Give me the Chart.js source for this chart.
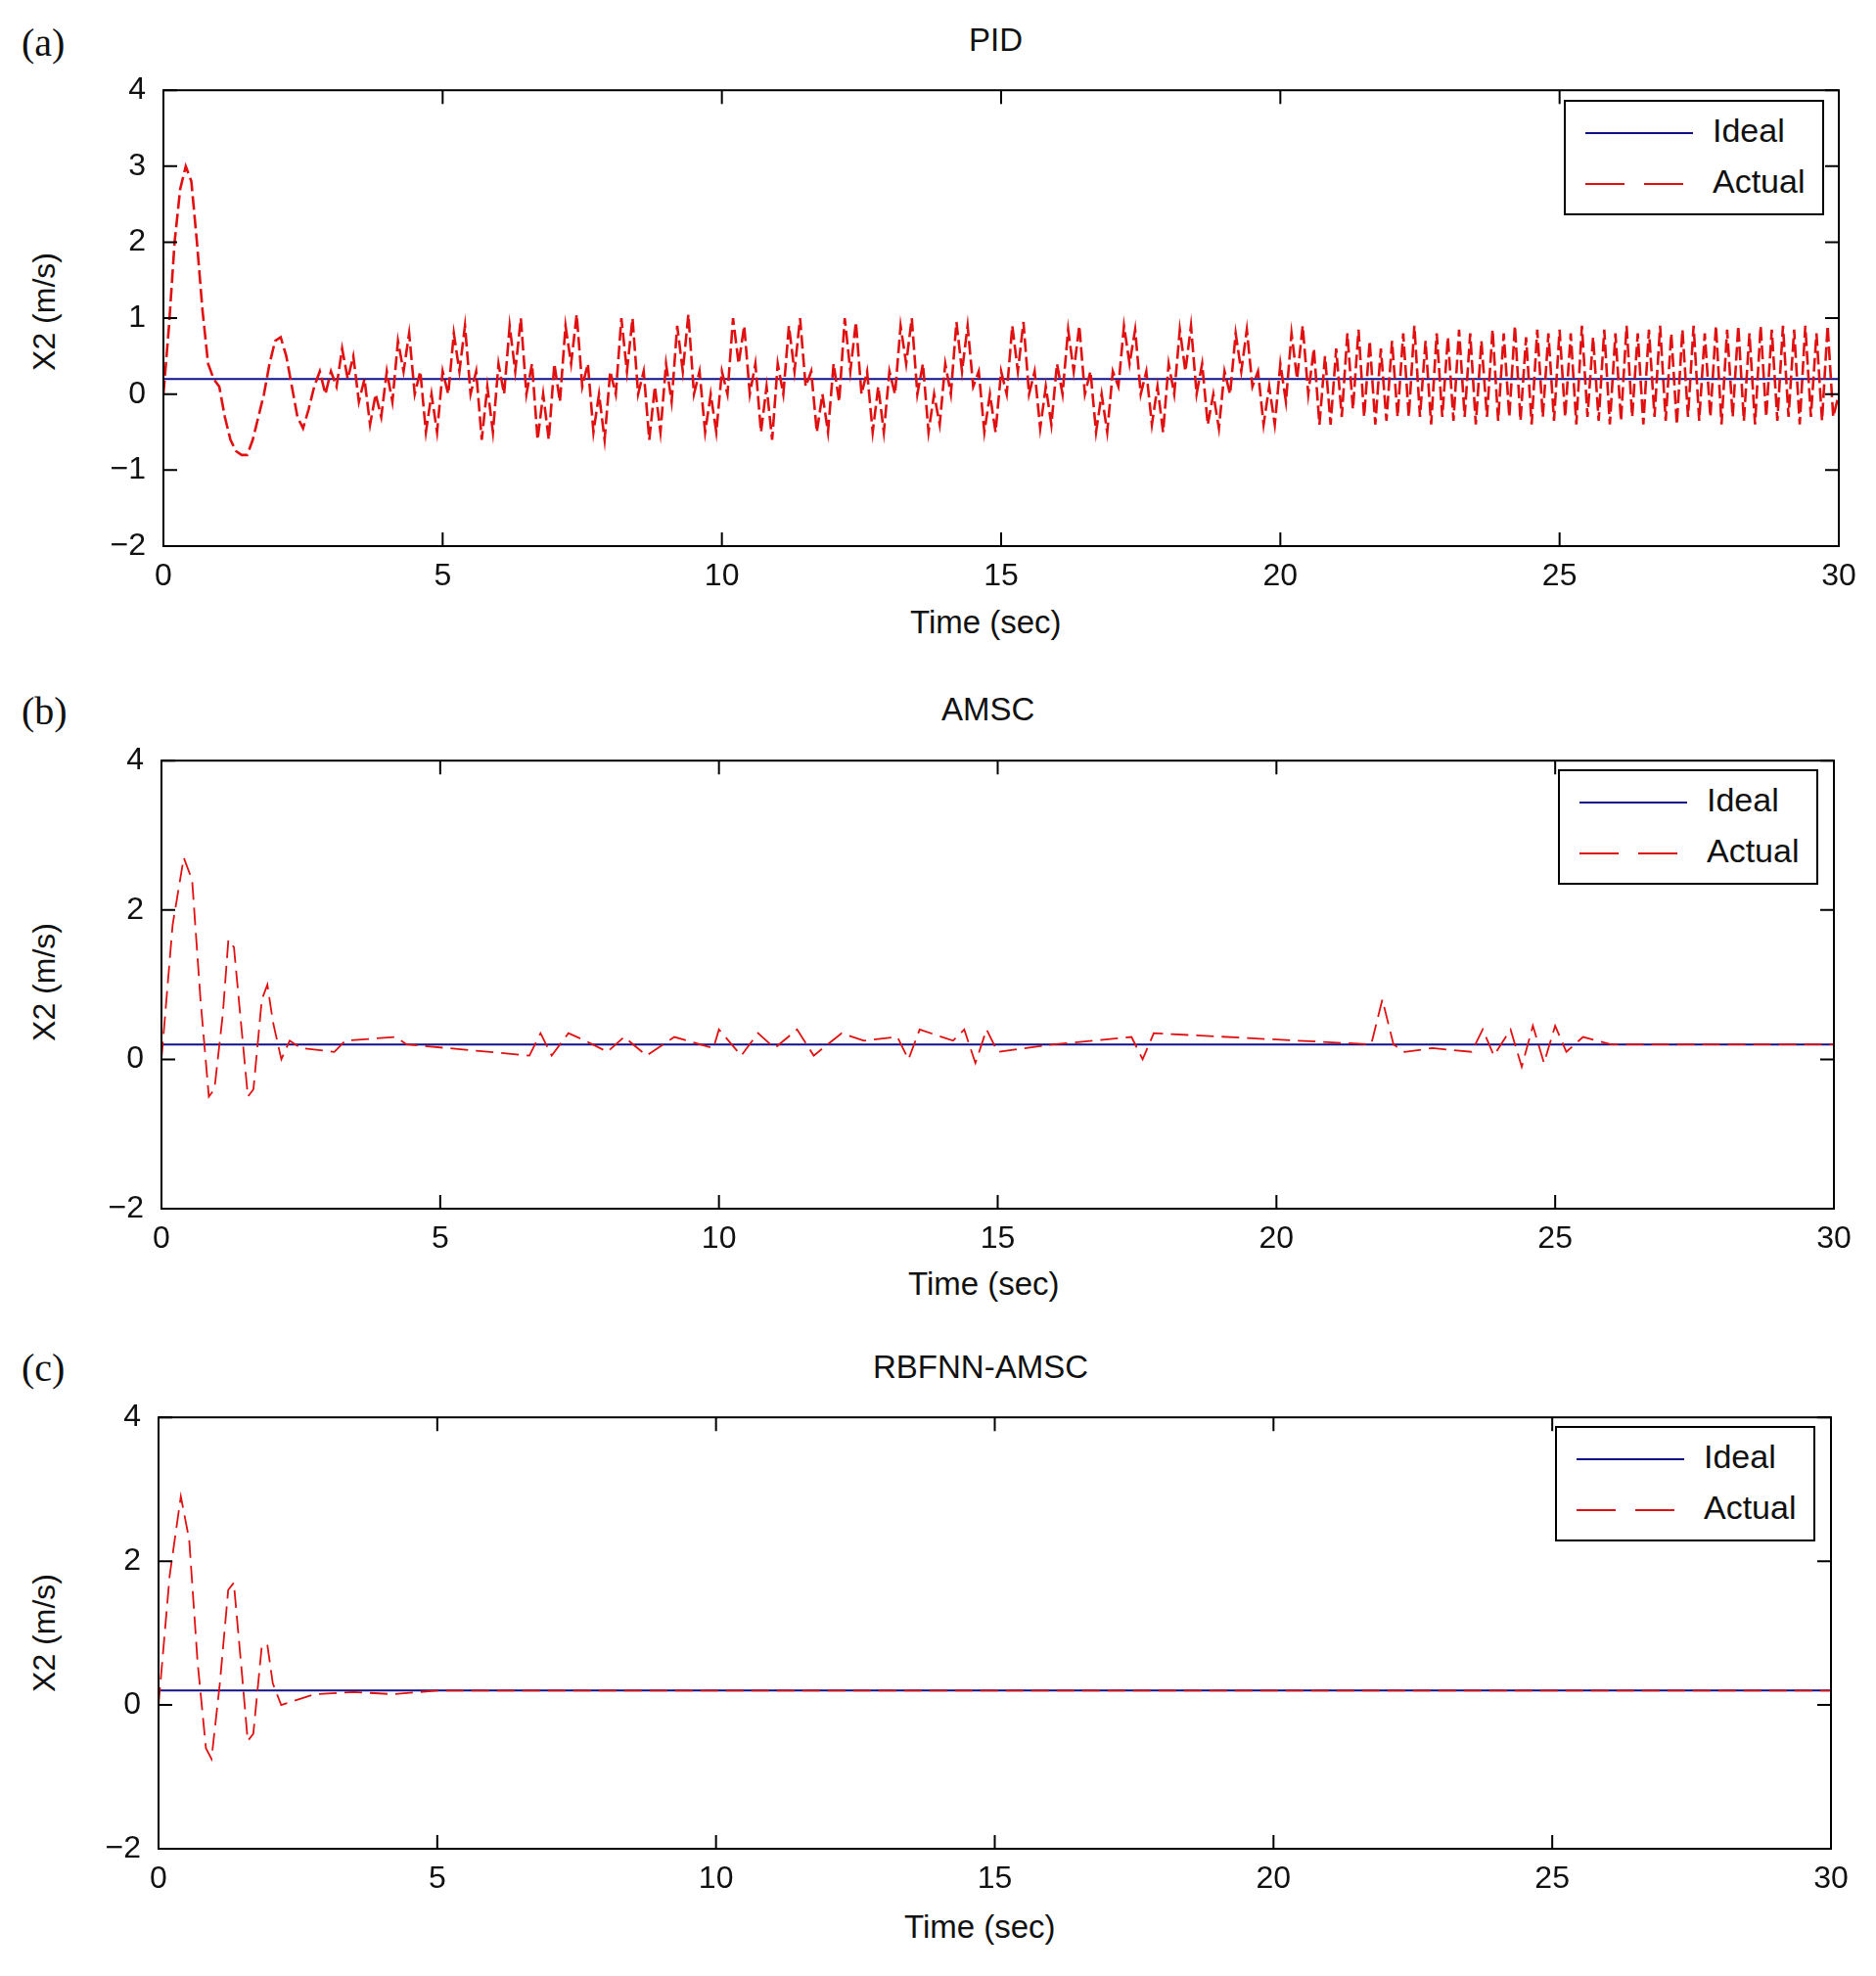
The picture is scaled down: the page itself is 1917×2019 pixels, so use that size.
<!DOCTYPE html>
<html>
<head>
<meta charset="utf-8">
<script src="https://cdn.jsdelivr.net/npm/chart.js@4.4.1/dist/chart.umd.min.js"></script>
<style>
  body { margin: 0; background: #fff; width: 1917px; height: 2019px; position: relative; overflow: hidden;
         font-family: 'Liberation Sans', Arial, sans-serif; color: #111; }
  .panel { position: absolute; left: 0; }
  .lbl { position: absolute; font-size: 33px; white-space: nowrap; }
  .tag { position: absolute; font-family: 'Liberation Serif', serif; font-size: 40px; }
  .ylab { position: absolute; font-size: 32px; transform: rotate(-90deg); transform-origin: center; white-space: nowrap; }
  .legend { position: absolute; border: 2px solid #000; background: #fff; width: 262px; height: 114px; }
  .legend .row { position: absolute; left: 20px; font-size: 34px; }
  .legend .sw { position: absolute; left: 0; top: 21px; width: 110px; height: 2px; }
  .legend .tx { position: absolute; left: 130px; top: 0; }
</style>
</head>
<body>
<div class="tag" style="left:22px;top:20px">(a)</div>
<div class="tag" style="left:22px;top:703px">(b)</div>
<div class="tag" style="left:22px;top:1374px">(c)</div>

<div class="lbl" style="left:990px;top:22px">PID</div>
<div class="lbl" style="left:962px;top:706px">AMSC</div>
<div class="lbl" style="left:892px;top:1378px">RBFNN-AMSC</div>

<div class="lbl" style="left:930px;top:617px">Time (sec)</div>
<div class="lbl" style="left:928px;top:1293px">Time (sec)</div>
<div class="lbl" style="left:924px;top:1950px">Time (sec)</div>

<div class="ylab" style="left:-15px;top:300px">X2 (m/s)</div>
<div class="ylab" style="left:-15px;top:985px">X2 (m/s)</div>
<div class="ylab" style="left:-15px;top:1650px">X2 (m/s)</div>

<canvas id="ca" class="panel"></canvas>
<canvas id="cb" class="panel"></canvas>
<canvas id="cc" class="panel"></canvas>

<script>
// valores (X2 em m/s, tempo em s)
const ideal = 0.2;
const timeEnd = 30;

// PID: amostras a cada 0,1 s
const pidActual = [
  0, 0.9, 2.0, 2.7, 3.0, 2.8, 2.0, 1.1, 0.4, 0.2,
  0.1, -0.3, -0.6, -0.75, -0.8, -0.8, -0.6, -0.3, 0.0, 0.4,
  0.7, 0.75, 0.5, 0.1, -0.3, -0.45, -0.2, 0.1, 0.3, 0.0,
  0.3, 0.1, 0.6, 0.2, 0.5, -0.1, 0.2, -0.4, 0.0, -0.3,
  0.3, -0.1, 0.7, 0.3, 0.8, 0.0, 0.3, -0.5, 0.0, -0.5,
  0.3, 0.0, 0.8, 0.3, 0.9, 0.0, 0.3, -0.6, 0.1, -0.5,
  0.4, 0.0, 0.9, 0.3, 1.0, 0.0, 0.4, -0.6, 0.0, -0.6,
  0.4, -0.1, 0.9, 0.4, 1.05, 0.1, 0.4, -0.5, 0.0, -0.6,
  0.3, 0.0, 1.0, 0.3, 1.0, 0.0, 0.3, -0.6, 0.1, -0.5,
  0.4, -0.1, 0.9, 0.3, 1.05, 0.0, 0.3, -0.5, 0.0, -0.5,
  0.3, 0.0, 1.0, 0.4, 0.9, 0.0, 0.4, -0.5, 0.1, -0.6,
  0.4, 0.0, 0.9, 0.3, 1.0, 0.1, 0.3, -0.5, 0.0, -0.5,
  0.4, -0.1, 1.0, 0.3, 0.95, 0.0, 0.3, -0.5, 0.1, -0.5,
  0.3, 0.0, 0.9, 0.4, 1.0, 0.0, 0.4, -0.5, 0.0, -0.4,
  0.4, 0.0, 0.95, 0.3, 0.9, 0.1, 0.3, -0.5, 0.0, -0.5,
  0.3, 0.0, 0.9, 0.3, 0.95, 0.0, 0.3, -0.45, 0.1, -0.4,
  0.4, 0.0, 0.85, 0.3, 0.9, 0.0, 0.3, -0.5, 0.0, -0.5,
  0.3, 0.1, 0.9, 0.4, 0.85, 0.0, 0.3, -0.4, 0.1, -0.5,
  0.4, 0.0, 0.85, 0.3, 0.9, 0.0, 0.4, -0.4, 0.0, -0.45,
  0.3, 0.0, 0.8, 0.3, 0.85, 0.1, 0.3, -0.4, 0.1, -0.4,
  0.4, -0.1, 0.8, 0.2, 0.9, 0.0, 0.6, -0.4, 0.5, -0.4,
  0.6, -0.3, 0.8, -0.2, 0.85, -0.3, 0.7, -0.4, 0.6, -0.35,
  0.7, -0.3, 0.8, -0.3, 0.9, -0.3, 0.7, -0.4, 0.8, -0.3,
  0.75, -0.35, 0.85, -0.3, 0.8, -0.4, 0.7, -0.3, 0.85, -0.35,
  0.8, -0.3, 0.9, -0.35, 0.75, -0.4, 0.85, -0.3, 0.8, -0.35,
  0.85, -0.3, 0.8, -0.4, 0.9, -0.3, 0.75, -0.35, 0.85, -0.4,
  0.8, -0.35, 0.9, -0.3, 0.8, -0.4, 0.85, -0.3, 0.9, -0.35,
  0.8, -0.4, 0.85, -0.3, 0.9, -0.35, 0.8, -0.3, 0.9, -0.4,
  0.85, -0.3, 0.9, -0.35, 0.8, -0.4, 0.9, -0.3, 0.85, -0.35,
  0.9, -0.3, 0.85, -0.4, 0.9, -0.3, 0.8, -0.35, 0.9, -0.3,
  0.0
];
const pidTime = pidActual.map((_, i) => i / 10);

const amscTime = [0, 0.2, 0.4, 0.55, 0.7, 0.85, 0.95, 1.1, 1.2, 1.3, 1.45, 1.55, 1.65, 1.8, 1.9, 2.0, 2.15, 2.3, 2.5,
  3.1, 3.3, 4.2, 4.4, 6.6, 6.8, 7.0, 7.3, 7.6, 8.0, 8.3, 8.7, 9.2, 9.9, 10.0, 10.4, 10.7, 11.0, 11.4, 11.7, 12.2, 12.6, 13.2, 13.4, 13.6,
  14.2, 14.4, 14.6, 14.8, 15.0, 16.0, 17.4, 17.6, 17.8, 21.7, 21.9, 22.1, 22.3, 22.8, 23.5, 23.7, 23.9, 24.2, 24.4, 24.6, 24.8, 25.0, 25.2, 25.5, 26.0, 30];
const amscActual = [0, 1.8, 2.7, 2.4, 0.8, -0.5, -0.4, 0.6, 1.6, 1.5, 0.3, -0.5, -0.4, 0.8, 1.0, 0.5, 0.0, 0.25, 0.15,
  0.1, 0.25, 0.3, 0.2, 0.05, 0.35, 0.05, 0.35, 0.25, 0.1, 0.3, 0.05, 0.3, 0.15, 0.4, 0.05, 0.35, 0.15, 0.4, 0.05, 0.35, 0.25, 0.3, 0.0, 0.4,
  0.25, 0.4, -0.05, 0.4, 0.1, 0.2, 0.3, 0.0, 0.35, 0.2, 0.8, 0.2, 0.1, 0.15, 0.1, 0.4, 0.05, 0.4, -0.1, 0.45, -0.05, 0.45, 0.1, 0.3, 0.2, 0.2];

// RBFNN-AMSC
const rbfTime = [0, 0.2, 0.4, 0.55, 0.7, 0.85, 0.95, 1.1, 1.25, 1.35, 1.5, 1.6, 1.7, 1.85, 1.95, 2.05, 2.2, 2.4, 2.8, 3.5, 4.2, 5, 30];
const rbfActual = [0, 1.8, 2.9, 2.3, 0.6, -0.6, -0.75, 0.3, 1.6, 1.7, 0.4, -0.5, -0.4, 0.8, 0.85, 0.3, 0.0, 0.05, 0.15, 0.18, 0.15, 0.2, 0.2];

const xTicks = [0, 5, 10, 15, 20, 25, 30];
const yTicksA = [-2, -1, 0, 1, 2, 3, 4];
const yTicksBC = [-2, 0, 2, 4];

const pts = (ts, vs) => ts.map((t, i) => ({ x: t, y: vs[i] }));
const FONT = "'Liberation Sans', Arial, sans-serif";

// caixa e marcas internas ao estilo MATLAB
const frame = {
  id: 'frame',
  afterDraw(chart) {
    const { ctx, chartArea: a, scales } = chart;
    ctx.save();
    ctx.strokeStyle = '#000';
    ctx.lineWidth = 2;
    ctx.strokeRect(a.left, a.top, a.right - a.left, a.bottom - a.top);
    const L = 14;
    ctx.beginPath();
    scales.x.ticks.forEach((t) => {
      const x = scales.x.getPixelForValue(t.value);
      ctx.moveTo(x, a.bottom); ctx.lineTo(x, a.bottom - L);
      ctx.moveTo(x, a.top); ctx.lineTo(x, a.top + L);
    });
    scales.y.ticks.forEach((t) => {
      const y = scales.y.getPixelForValue(t.value);
      ctx.moveTo(a.left, y); ctx.lineTo(a.left + L, y);
      ctx.moveTo(a.right, y); ctx.lineTo(a.right - L, y);
    });
    ctx.stroke();
    ctx.restore();
  },
};

function makePanel(id, top, left, right, plotH, actual, yTicks, lw, dash) {
  const canvas = document.getElementById(id);
  canvas.style.top = (top - 20) + 'px';
  canvas.width = 1917; canvas.height = plotH + 20 + 60;
  canvas.style.width = '1917px'; canvas.style.height = canvas.height + 'px';
  return new Chart(canvas, {
    type: 'line',
    data: {
      datasets: [
        { label: 'Actual', data: actual, borderColor: '#e01010', borderWidth: lw, borderDash: dash, pointRadius: 0, tension: 0 },
        { label: 'Ideal', data: [{ x: 0, y: ideal }, { x: timeEnd, y: ideal }], borderColor: '#10108a', borderWidth: 2, pointRadius: 0 },
      ],
    },
    options: {
      responsive: false, animation: false, devicePixelRatio: 1,
      layout: { padding: { top: 20, right: 1917 - right, left: 0, bottom: 0 } },
      plugins: { legend: { display: false }, tooltip: { enabled: false } },
      scales: {
        x: {
          type: 'linear', min: 0, max: timeEnd,
          afterBuildTicks: (s) => { s.ticks = xTicks.map((v) => ({ value: v })); },
          grid: { display: false }, border: { display: false },
          ticks: { color: '#111', font: { family: FONT, size: 32 }, padding: 4, maxRotation: 0 },
          afterFit: (s) => { s.height = 60; },
        },
        y: {
          min: yTicks[0], max: yTicks[yTicks.length - 1],
          afterBuildTicks: (s) => { s.ticks = yTicks.map((v) => ({ value: v })); },
          grid: { display: false }, border: { display: false },
          ticks: { color: '#111', font: { family: FONT, size: 32 }, padding: 10,
                   callback: (v) => (v < 0 ? '\u2212' + Math.abs(v) : String(v)) },
          afterFit: (s) => { s.width = left; },
        },
      },
    },
    plugins: [frame],
  });
}

makePanel('ca', 83, 167, 1879, 475, pts(pidTime, pidActual), yTicksA, 2.6, [14, 5]);
makePanel('cb', 768, 165, 1874, 467, pts(amscTime, amscActual), yTicksBC, 1.8, [18, 8]);
makePanel('cc', 1439, 162, 1871, 450, pts(rbfTime, rbfActual), yTicksBC, 1.8, [18, 8]);

function legend(left, top) {
  const d = document.createElement('div');
  d.className = 'legend';
  d.style.left = left + 'px'; d.style.top = top + 'px';
  d.innerHTML =
    '<div class="row" style="top:10px"><div class="sw" style="background:#10108a"></div><span class="tx">Ideal</span></div>' +
    '<div class="row" style="top:62px"><div class="sw" style="background:repeating-linear-gradient(90deg,#e01010 0 40px,transparent 40px 60px)"></div><span class="tx">Actual</span></div>';
  document.body.appendChild(d);
}
legend(1598, 102);
legend(1592, 786);
legend(1589, 1457);
</script>
</body>
</html>
